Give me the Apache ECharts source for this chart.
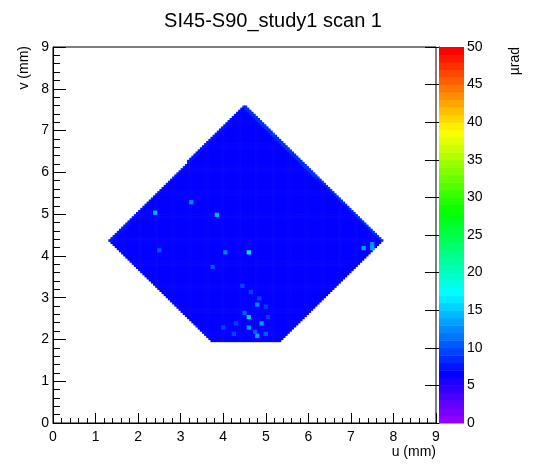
<!DOCTYPE html>
<html>
<head>
<meta charset="utf-8">
<script src="https://cdn.jsdelivr.net/npm/echarts@6/dist/echarts.min.js"></script>
<style>
html, body { margin: 0; padding: 0; background: #fff; }
#chart { width: 546px; height: 472px; }
</style>
</head>
<body>
<div id="chart"></div>
<script>
// axis ticks
var uTicks = [0, 1, 2, 3, 4, 5, 6, 7, 8, 9];
var vTicks = [0, 1, 2, 3, 4, 5, 6, 7, 8, 9];
var zTicks = [0, 5, 10, 15, 20, 25, 30, 35, 40, 45, 50];

// scanned area outline (u, v in mm)
var outline = [[1.32, 4.38], [4.49, 7.62], [7.75, 4.38], [5.33, 1.97], [3.73, 1.97]];

// background level in 0.5 mm blocks, rows from v=7.5-8.0 down to v=1.5-2.0,
// columns from u=1.0-1.5 to u=7.5-8.0 (µrad)
var blockValues = [
    [6.5, 6.5, 6.5, 6.5, 6.5, 6.5, 6.5, 6.5, 6.5, 6.5, 6.5, 6.5, 6.5, 6.5],
    [6.5, 6.5, 6.5, 6.5, 6.5, 6.5, 6.5, 6.5, 6.5, 6.5, 6.5, 6.5, 6.5, 6.5],
    [6.5, 6.5, 6.5, 6.5, 6.5, 6.5, 6.5, 6.5, 6.5, 6.5, 6.5, 6.5, 6.5, 6.5],
    [6.5, 6.5, 6.5, 6.5, 6.5, 6.5, 6.5, 6.5, 6.5, 6.5, 6.5, 6.5, 6.5, 6.5],
    [6.5, 6.5, 6.5, 6.5, 6.5, 6.5, 6.5, 6.5, 6.5, 6.5, 6.5, 6.5, 6.5, 6.5],
    [6.5, 6.5, 6.5, 6.5, 6.5, 6.5, 6.5, 6.5, 6.5, 6.5, 6.5, 6.5, 6.5, 6.5],
    [6.5, 6.5, 6.5, 6.5, 6.5, 6.5, 6.5, 6.5, 6.5, 6.5, 6.5, 6.5, 6.5, 6.5],
    [6.5, 6.5, 6.5, 6.5, 6.5, 6.5, 6.5, 6.5, 6.5, 6.5, 6.5, 6.5, 6.5, 6.5],
    [6.5, 6.5, 6.5, 6.5, 6.5, 6.5, 6.5, 6.5, 6.5, 6.5, 6.5, 6.5, 6.5, 6.5],
    [6.5, 6.5, 6.5, 6.5, 6.5, 6.5, 6.5, 6.5, 6.5, 6.5, 6.5, 6.5, 6.5, 6.5],
    [6.5, 6.5, 6.5, 6.5, 6.5, 6.5, 6.5, 6.5, 6.5, 6.5, 6.5, 6.5, 6.5, 6.5],
    [6.5, 6.5, 6.5, 6.5, 6.5, 6.5, 6.5, 6.5, 6.5, 6.5, 6.5, 6.5, 6.5, 6.5],
    [6.5, 6.5, 6.5, 6.5, 6.5, 6.5, 6.5, 6.5, 6.5, 6.5, 6.5, 6.5, 6.5, 6.5]
];

// brighter rim along the two upper edges: [from vertex, to vertex, value]
var rims = [[0, 1, 7.5], [1, 2, 8.5]];

// isolated bright spots [u, v, value]
var spots = [
    [3.20, 5.27, 12.5], [2.38, 5.02, 14.5], [3.81, 4.98, 14.5],
    [4.59, 4.06, 16.5], [4.05, 4.06, 12.5],
    [3.73, 3.70, 10.5], [2.47, 4.12, 10.5], [7.29, 4.18, 13.5], [7.45, 4.18, 13.5],
    [7.45, 4.26, 12.5], [4.75, 2.83, 12.5], [4.59, 2.52, 15.5], [4.57, 2.29, 13.5],
    [4.88, 2.35, 13.5], [4.77, 2.06, 13.5], [5.18, 6.93, 9.5], [5.80, 6.41, 9.5],
    [2.75, 5.94, 9.5], [4.45, 2.65, 10.5], [4.70, 2.18, 10.5], [4.98, 2.12, 10.5],
    [4.30, 2.40, 9.5], [4.85, 2.95, 9.5], [4.62, 3.10, 9.5], [5.05, 2.55, 9.5],
    [4.20, 2.10, 9.5], [3.95, 2.30, 9.5], [4.95, 2.80, 9.5], [4.40, 3.30, 9.5]
];

var binSize = 0.05;
var blockU0 = 1.0, blockV0 = 1.5, blockSize = 0.5;

function inside(u, v) {
    var c = false;
    for (var i = 0, j = outline.length - 1; i < outline.length; j = i++) {
        var a = outline[i], b = outline[j];
        if ((a[1] > v) !== (b[1] > v) && u < (b[0] - a[0]) * (v - a[1]) / (b[1] - a[1]) + a[0]) c = !c;
    }
    return c;
}

function edgeDist(u, v, a, b) {
    var dx = b[0] - a[0], dy = b[1] - a[1];
    return Math.abs(dy * (u - a[0]) - dx * (v - a[1])) / Math.sqrt(dx * dx + dy * dy);
}

// each spot covers a 2x2 group of bins
var spotMap = {};
spots.forEach(function (s) {
    var iu = Math.floor(s[0] / binSize), iv = Math.floor(s[1] / binSize);
    [[0, 0], [1, 0], [0, 1], [1, 1]].forEach(function (d) {
        spotMap[(iu + d[0]) + '_' + (iv + d[1])] = s[2];
    });
});

var cells = [];
var nBins = Math.round(9 / binSize);
for (var iv = 0; iv < nBins; iv++) {
    for (var iu = 0; iu < nBins; iu++) {
        var u = (iu + 0.5) * binSize, v = (iv + 0.5) * binSize;
        if (!inside(u, v)) continue;
        var row = blockValues.length - 1 - Math.floor((v - blockV0) / blockSize);
        var col = Math.floor((u - blockU0) / blockSize);
        var z = blockValues[row][col];
        rims.forEach(function (r) {
            if (edgeDist(u, v, outline[r[0]], outline[r[1]]) < 0.05) z = r[2];
        });
        var key = iu + '_' + iv;
        if (spotMap[key] !== undefined) z = spotMap[key];
        cells.push([iu * binSize, iv * binSize, z]);
    }
}

// ROOT "pretty" palette: 50 levels violet -> red
var nLevels = 50;
var palette = [];
var pieces = [];
var barCells = [];
for (var i = 0; i < nLevels; i++) {
    var hue = 280 - (i + 1) * (280 / nLevels);
    palette.push('hsl(' + hue.toFixed(1) + ',100%,50%)');
    pieces.push(i === nLevels - 1 ? {gte: i, lte: i + 1, color: palette[i]} : {gte: i, lt: i + 1, color: palette[i]});
    barCells.push([0, i, i + 0.5]);
}

var font = 'Liberation Sans, Arial, Helvetica, sans-serif';
var chart = echarts.init(document.getElementById('chart'));
chart.setOption({
    animation: false,
    backgroundColor: '#fff',
    grid: [
        {left: 53, top: 47, width: 383, height: 376, show: true, borderColor: '#000', borderWidth: 1, backgroundColor: 'transparent'},
        {left: 439, top: 47, width: 25, height: 376}
    ],
    xAxis: [{
        type: 'value', gridIndex: 0, min: uTicks[0], max: uTicks[uTicks.length - 1], interval: 1,
        axisLine: {show: true, lineStyle: {color: '#000', width: 1}},
        axisTick: {show: true, inside: true, length: 10, lineStyle: {color: '#000'}},
        minorTick: {show: true, splitNumber: 5, length: 5, lineStyle: {color: '#000'}},
        axisLabel: {color: '#000', fontSize: 14, fontFamily: font, margin: 7, showMinLabel: true, showMaxLabel: true},
        splitLine: {show: false}
    }, {
        type: 'value', gridIndex: 1, min: 0, max: 1, show: false
    }],
    yAxis: [{
        type: 'value', gridIndex: 0, min: vTicks[0], max: vTicks[vTicks.length - 1], interval: 1,
        axisLine: {show: true, lineStyle: {color: '#000', width: 1}},
        axisTick: {show: true, inside: true, length: 13, lineStyle: {color: '#000'}},
        minorTick: {show: true, splitNumber: 5, length: 7, lineStyle: {color: '#000'}},
        axisLabel: {color: '#000', fontSize: 14, fontFamily: font, margin: 4, showMinLabel: true, showMaxLabel: true},
        splitLine: {show: false}
    }, {
        type: 'value', gridIndex: 1, position: 'right', min: zTicks[0], max: zTicks[zTicks.length - 1], interval: 5,
        axisLine: {show: true, lineStyle: {color: '#000', width: 1}},
        axisTick: {show: true, inside: true, length: 14, lineStyle: {color: '#000'}},
        axisLabel: {color: '#000', fontSize: 14, fontFamily: font, margin: 3, showMinLabel: true, showMaxLabel: true},
        splitLine: {show: false}
    }],
    visualMap: {
        type: 'piecewise', show: false, dimension: 2, seriesIndex: [0, 1], pieces: pieces
    },
    series: [{
        type: 'custom', xAxisIndex: 0, yAxisIndex: 0, progressive: 0, data: cells,
        renderItem: function (params, api) {
            var p = api.coord([api.value(0), api.value(1) + binSize]);
            var s = api.size([binSize, binSize]);
            return {type: 'rect', shape: {x: p[0], y: p[1], width: s[0] + 0.6, height: s[1] + 0.6},
                style: {fill: api.visual('color')}};
        }
    }, {
        type: 'custom', xAxisIndex: 1, yAxisIndex: 1, progressive: 0, data: barCells,
        renderItem: function (params, api) {
            var p = api.coord([0, api.value(1) + 1]);
            var s = api.size([1, 1]);
            return {type: 'rect', shape: {x: p[0], y: p[1], width: s[0], height: s[1] + 0.5},
                style: {fill: api.visual('color')}};
        }
    }],
    graphic: [
        {type: 'text', x: 273, y: 21, style: {text: 'SI45-S90_study1 scan 1', font: '20px ' + font, fill: '#000', textAlign: 'center', textVerticalAlign: 'middle'}},
        {type: 'text', x: 24, y: 46, rotation: Math.PI / 2, style: {text: 'v (mm)', font: '14px ' + font, fill: '#000', textAlign: 'right', textVerticalAlign: 'middle'}},
        {type: 'text', x: 436, y: 452, style: {text: 'u (mm)', font: '14px ' + font, fill: '#000', textAlign: 'right', textVerticalAlign: 'middle'}},
        {type: 'text', x: 515, y: 47, rotation: Math.PI / 2, style: {text: 'µrad', font: '14px ' + font, fill: '#000', textAlign: 'right', textVerticalAlign: 'middle'}}
    ]
});
</script>
</body>
</html>
